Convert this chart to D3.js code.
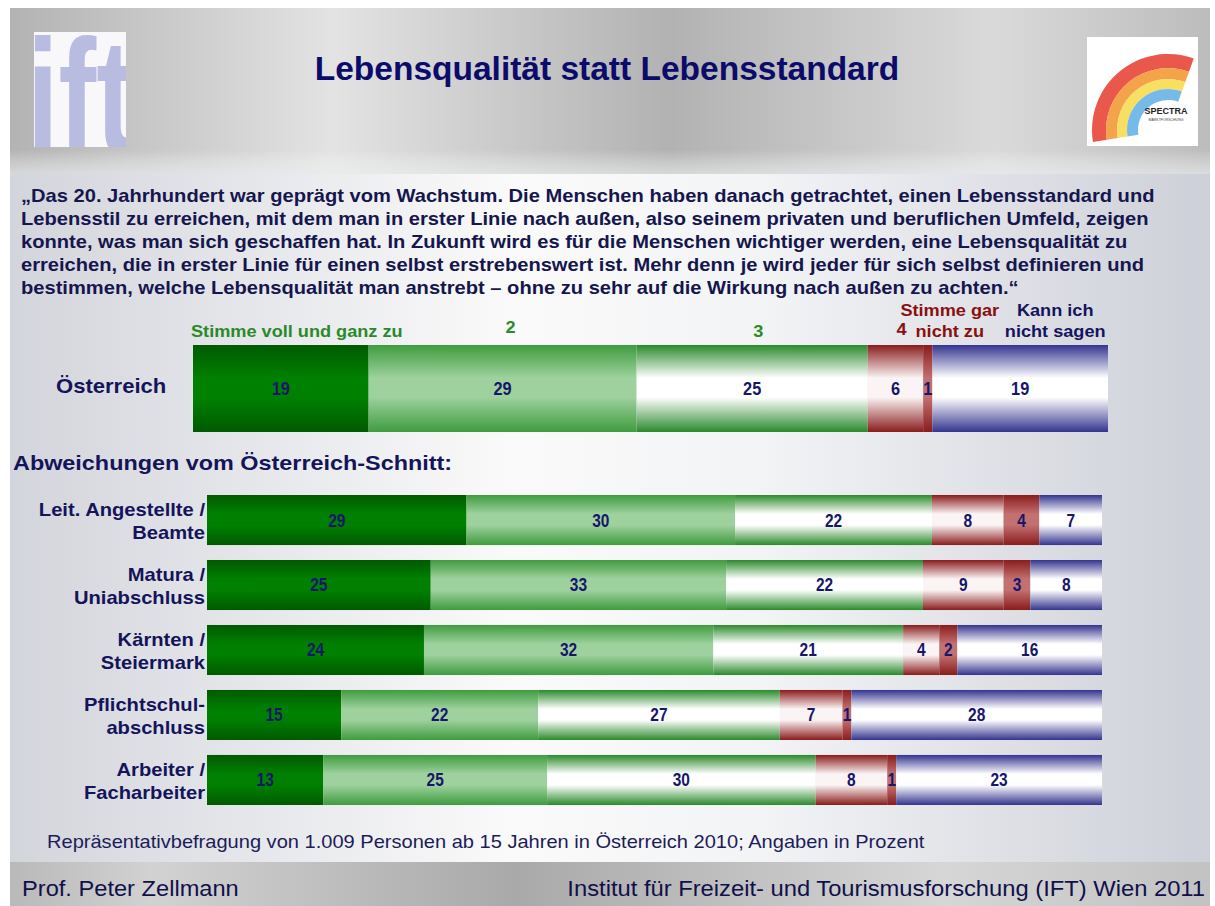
<!DOCTYPE html>
<html>
<head>
<meta charset="utf-8">
<script src="https://cdn.jsdelivr.net/npm/d3@7"></script>
<style>
	body { margin: 0; background: #fff; }
	svg { display: block; }
	text { font-family: "Liberation Sans", Arial, sans-serif; }
</style>
</head>
<body>
<div class="slide"></div>
<script>
var title = "Lebensqualität statt Lebensstandard";

var quoteLines = [
	"„Das 20. Jahrhundert war geprägt vom Wachstum. Die Menschen haben danach getrachtet, einen Lebensstandard und",
	"Lebensstil zu erreichen, mit dem man in erster Linie nach außen, also seinem privaten und beruflichen Umfeld, zeigen",
	"konnte, was man sich geschaffen hat. In Zukunft wird es für die Menschen wichtiger werden, eine Lebensqualität zu",
	"erreichen, die in erster Linie für einen selbst erstrebenswert ist. Mehr denn je wird jeder für sich selbst definieren und",
	"bestimmen, welche Lebensqualität man anstrebt – ohne zu sehr auf die Wirkung nach außen zu achten.“"
];

var answers = ["Stimme voll und ganz zu", "2", "3", "4", "Stimme gar nicht zu", "Kann ich nicht sagen"];
var answerLines = [["Stimme voll und ganz zu"], ["2"], ["3"], ["4"], ["Stimme gar", "nicht zu"], ["Kann ich", "nicht sagen"]];

var totalLabel = "Österreich";
var totalValues = [19, 29, 25, 6, 1, 19];

var subTitle = "Abweichungen vom Österreich-Schnitt:";
var groups = [
	["Leit. Angestellte /", "Beamte"],
	["Matura /", "Uniabschluss"],
	["Kärnten /", "Steiermark"],
	["Pflichtschul-", "abschluss"],
	["Arbeiter /", "Facharbeiter"]
];
var groupValues = [
	[29, 30, 22, 8, 4, 7],
	[25, 33, 22, 9, 3, 8],
	[24, 32, 21, 4, 2, 16],
	[15, 22, 27, 7, 1, 28],
	[13, 25, 30, 8, 1, 23]
];

var footnote = "Repräsentativbefragung von 1.009 Personen ab 15 Jahren in Österreich 2010; Angaben in Prozent";
var footerLeft = "Prof. Peter Zellmann";
var footerRight = "Institut für Freizeit- und Tourismusforschung (IFT) Wien  2011";

// look of each answer: edge colour (top/bottom) and centre colour
var segEdge = ["#005a00", "#3f9c3f", "#2b8a2b", "#8a1c1c", "#8a1c1c", "#34348f"],
	segMid = ["#008000", "#9ed19e", "#ffffff", "#fbf4f4", "#c27070", "#ffffff"],
	legendColor = ["#2a8a2a", "#2a8a2a", "#2a8a2a", "#8a1010", "#8a1010", "#14145e"],
	legendDx = [16, 8, 6, 6, 22, 35],
	legendDy = [0, -4, 0, -2, 0, 0],
	navy = "#14145a";

var width = 1215,
	height = 906;

var svg = d3.select("div.slide")
	.append("svg")
	.attr("width", width)
	.attr("height", height);

var defs = svg.append("defs");

function hGrad(id, stops) {
	var g = defs.append("linearGradient").attr("id", id)
		.attr("x1", 0).attr("x2", 1).attr("y1", 0).attr("y2", 0);
	stops.forEach(function(s) {
		g.append("stop").attr("offset", s[0]).attr("stop-color", s[1]);
	});
}

hGrad("metal", [[0, "#b3b3b3"], [0.27, "#e3e3e3"], [0.55, "#b2b2b2"], [0.82, "#dadada"], [1, "#bcbcbc"]]);
hGrad("metalFoot", [[0, "#b9b9b9"], [0.12, "#d2d2d2"], [0.42, "#a9a9a9"], [0.78, "#d6d6d6"], [1, "#c2c2c2"]]);
hGrad("body", [[0, "#d3d5dc"], [0.42, "#fafafa"], [0.62, "#f3f4f6"], [1, "#cdd0d8"]]);

answers.forEach(function(a, i) {
	var g = defs.append("linearGradient").attr("id", "seg" + i)
		.attr("x1", 0).attr("x2", 0).attr("y1", 0).attr("y2", 1);
	[[0, segEdge[i]], [0.38, segMid[i]], [0.6, segMid[i]], [1, segEdge[i]]].forEach(function(s) {
		g.append("stop").attr("offset", s[0]).attr("stop-color", s[1]);
	});
});

var vGradHead = defs.append("linearGradient").attr("id", "headFade")
	.attr("x1", 0).attr("x2", 0).attr("y1", 0).attr("y2", 1);
vGradHead.append("stop").attr("offset", 0).attr("stop-color", "#fff").attr("stop-opacity", 0);
vGradHead.append("stop").attr("offset", 1).attr("stop-color", "#eef0f2").attr("stop-opacity", 0.6);

defs.append("clipPath").attr("id", "iftClip")
	.append("rect").attr("x", 34).attr("y", 32).attr("width", 92).attr("height", 115);

// background
var bg = svg.append("g");
bg.append("rect").attr("x", 10).attr("y", 8).attr("width", 1200).attr("height", 898).attr("fill", "url(#body)");
bg.append("rect").attr("x", 10).attr("y", 8).attr("width", 1200).attr("height", 166).attr("fill", "url(#metal)");
bg.append("rect").attr("x", 10).attr("y", 150).attr("width", 1200).attr("height", 24).attr("fill", "url(#headFade)");
bg.append("rect").attr("x", 10).attr("y", 862).attr("width", 1200).attr("height", 44).attr("fill", "url(#metalFoot)");

// ift logo
var ift = svg.append("g").attr("clip-path", "url(#iftClip)");
ift.append("rect").attr("x", 34).attr("y", 32).attr("width", 92).attr("height", 115).attr("fill", "#f8f8fa");
ift.append("text")
	.attr("transform", "translate(27,152) scale(0.7,1)")
	.style("font-size", "162px").style("font-weight", "bold")
	.attr("fill", "#b8bce1")
	.text("ift");

// spectra logo
var sp = svg.append("g");
sp.append("rect").attr("x", 1087).attr("y", 37).attr("width", 111).attr("height", 109).attr("fill", "#ffffff");
var arcGen = d3.arc(),
	bands = [["#e63a2c", 62, 76], ["#f3932a", 51, 62], ["#f6d947", 41, 51], ["#5eaee6", 30, 41]];
bands.forEach(function(b) {
	sp.append("path")
		.attr("transform", "translate(1168,130)")
		.attr("d", arcGen({ innerRadius: b[1], outerRadius: b[2], startAngle: -Math.PI * 0.55, endAngle: Math.PI * 0.11 }))
		.attr("fill", b[0])
		.attr("opacity", 0.85);
});
sp.append("text").attr("x", 1166).attr("y", 114).attr("text-anchor", "middle")
	.style("font-size", "9px").style("font-weight", "bold").attr("fill", "#222").text("SPECTRA");
sp.append("text").attr("x", 1166).attr("y", 121).attr("text-anchor", "middle")
	.style("font-size", "3.5px").attr("fill", "#444").text("MARKTFORSCHUNG");

// title
svg.append("text")
	.attr("x", 607).attr("y", 80)
	.attr("text-anchor", "middle")
	.style("font-size", "33.5px").style("font-weight", "bold")
	.attr("fill", "#0b0b6b")
	.text(title);

// quote (the slide text is drawn wider than plain Arial)
svg.append("g")
	.attr("transform", "translate(21,0) scale(1.15,1)")
	.selectAll("text")
	.data(quoteLines)
	.enter().append("text")
	.attr("x", 0)
	.attr("y", function(d, i) { return 202 + i * 23; })
	.style("font-size", "17.5px").style("font-weight", "bold")
	.attr("fill", "#16164e")
	.text(function(d) { return d; });

var keys = d3.range(answers.length);
var stack = d3.stack()
	.keys(keys)
	.value(function(d, k) { return d[k]; })
	.offset(d3.stackOffsetExpand);

function drawBars(layer, rows, x, y, bandH, labelSize) {
	var series = stack(rows);
	var seg = layer.selectAll("g.series")
		.data(series)
		.enter().append("g")
		.attr("class", "series")
		.attr("fill", function(d) { return "url(#seg" + d.key + ")"; });
	seg.selectAll("rect")
		.data(function(d) { return d; })
		.enter().append("rect")
		.attr("x", function(d) { return x(d[0]); })
		.attr("width", function(d) { return x(d[1]) - x(d[0]); })
		.attr("y", function(d, i) { return y(i); })
		.attr("height", bandH);
	var lab = layer.selectAll("g.vals")
		.data(series)
		.enter().append("g")
		.attr("class", "vals");
	lab.selectAll("text")
		.data(function(s) { return s.map(function(d, i) { return { d: d, i: i, v: rows[i][s.key] }; }); })
		.enter().append("text")
		.attr("transform", function(o) {
			return "translate(" + (x(o.d[0]) + x(o.d[1])) / 2 + "," + (y(o.i) + bandH / 2 + labelSize * 0.36) + ") scale(0.86,1)";
		})
		.attr("text-anchor", "middle")
		.style("font-size", labelSize + "px").style("font-weight", "bold")
		.attr("fill", "#16166a")
		.text(function(o) { return o.v; });
	return series;
}

// Österreich
var xTop = d3.scaleLinear().domain([0, 1]).range([193, 1108]);
var yTop = d3.scaleBand().domain([0]).range([345, 432]);
var topLayer = svg.append("g");
var topSeries = drawBars(topLayer, [totalValues], xTop, yTop, yTop.bandwidth(), 19);

topLayer.append("text")
	.attr("transform", "translate(56,393) scale(1.05,1)")
	.style("font-size", "21px").style("font-weight", "bold")
	.attr("fill", navy)
	.text(totalLabel);

// legend above top bar
function segCenter(s) { return (xTop(s[0][0]) + xTop(s[0][1])) / 2 + legendDx[s.key]; }
var leg = svg.append("g").selectAll("text.legend")
	.data(topSeries)
	.enter().append("text")
	.attr("class", "legend")
	.attr("transform", function(s) {
		return "translate(" + segCenter(s) + "," + (337 + legendDy[s.key] - (answerLines[s.key].length - 1) * 21) + ") scale(1.1,1)";
	})
	.attr("text-anchor", "middle")
	.style("font-size", "16.5px").style("font-weight", "bold")
	.attr("fill", function(s) { return legendColor[s.key]; });
leg.selectAll("tspan")
	.data(function(s) { return answerLines[s.key]; })
	.enter().append("tspan")
	.attr("x", 0)
	.attr("dy", function(d, i) { return i ? 21 : 0; })
	.text(function(d) { return d; });

// subgroups
svg.append("text")
	.attr("transform", "translate(13,470) scale(1.17,1)")
	.style("font-size", "20px").style("font-weight", "bold")
	.attr("fill", navy)
	.text(subTitle);

var xSub = d3.scaleLinear().domain([0, 1]).range([207, 1102]);
var ySub = d3.scaleBand().domain(d3.range(groups.length)).range([495, 805]).paddingInner(0.23);
var subLayer = svg.append("g");
drawBars(subLayer, groupValues, xSub, ySub, ySub.bandwidth(), 18);

var gl = subLayer.selectAll("text.group")
	.data(groups)
	.enter().append("text")
	.attr("class", "group")
	.attr("text-anchor", "end")
	.attr("transform", function(d, i) { return "translate(205," + (ySub(i) + ySub.bandwidth() / 2 - 4) + ") scale(1.12,1)"; })
	.style("font-size", "18px").style("font-weight", "bold")
	.attr("fill", navy);
gl.selectAll("tspan")
	.data(function(d) { return d; })
	.enter().append("tspan")
	.attr("x", 0)
	.attr("dy", function(d, i) { return i ? 23 : 0; })
	.text(function(d) { return d; });

// notes
svg.append("text")
	.attr("transform", "translate(47,848) scale(1.115,1)")
	.style("font-size", "18px")
	.attr("fill", "#1c1c5a")
	.text(footnote);

svg.append("text")
	.attr("transform", "translate(22,896) scale(1.075,1)")
	.style("font-size", "22px")
	.attr("fill", "#10104a")
	.text(footerLeft);

svg.append("text")
	.attr("transform", "translate(1205,896) scale(1.08,1)")
	.attr("text-anchor", "end")
	.style("font-size", "22px")
	.attr("fill", "#10104a")
	.text(footerRight);
</script>
</body>
</html>
